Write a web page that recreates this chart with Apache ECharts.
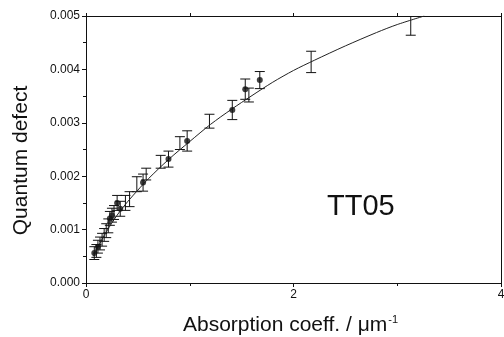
<!DOCTYPE html>
<html><head><meta charset="utf-8">
<script src="https://cdn.jsdelivr.net/npm/echarts@6/dist/echarts.min.js"></script>
<style>html,body{margin:0;padding:0;background:#fff}#c{width:504px;height:337px}</style>
</head><body><div id="c"></div>
<script>
// Filled points (x, y, error)
const filledX   = [0.08, 0.115, 0.23, 0.25, 0.30, 0.33, 0.55, 0.795, 0.975, 1.41, 1.535, 1.675];
const filledY   = [0.00056, 0.00068, 0.00121, 0.00127, 0.00150, 0.00139, 0.00188, 0.00232, 0.00266, 0.00324, 0.00363, 0.00380];
const filledErr = [0.00012, 0.00012, 0.00013, 0.00013, 0.00014, 0.00014, 0.00016, 0.00015, 0.00019, 0.00018, 0.00019, 0.00016];
// Error bars without markers
const openX   = [0.10, 0.135, 0.155, 0.175, 0.195, 0.215, 0.27, 0.38, 0.42, 0.49, 0.58, 0.72, 0.905, 1.19, 1.57, 2.17, 3.13];
const openY   = [0.00060, 0.00074, 0.00081, 0.00090, 0.00098, 0.00107, 0.00132, 0.00150, 0.00157, 0.00185, 0.00204, 0.00227, 0.00262, 0.00303, 0.00352, 0.00414, 0.00482];
const openErr = [0.00012, 0.00012, 0.00012, 0.00012, 0.00013, 0.00013, 0.00013, 0.00014, 0.00014, 0.00014, 0.00011, 0.00012, 0.00012, 0.00013, 0.00013, 0.00020, 0.00018];
// Fit curve
const fitX = [0.07, 0.1, 0.2, 0.3, 0.4, 0.5, 0.6, 0.8, 1.0, 1.2, 1.4, 1.6, 1.8, 2.0, 2.2, 2.5, 2.8, 3.0, 3.26];
const fitY = [0.00050, 0.00062, 0.00097, 0.00127, 0.00152, 0.00174, 0.00195, 0.00232, 0.00265, 0.00297, 0.00325, 0.00351, 0.00376, 0.00398, 0.00417, 0.00444, 0.00469, 0.00484, 0.00500];
const xTicks = [0, 2, 4];
const yTicks = [0.000, 0.001, 0.002, 0.003, 0.004, 0.005];
const sampleLabel = 'TT05';

const FONT = '"Liberation Sans", Arial, Helvetica, sans-serif';
const INK = '#111';
const chart = echarts.init(document.getElementById('c'), null, {renderer: 'canvas'});

const errData = filledX.map((x, i) => [x, filledY[i], filledErr[i]])
  .concat(openX.map((x, i) => [x, openY[i], openErr[i]]));

function errItem(params, api) {
  const x = api.value(0), y = api.value(1), e = api.value(2);
  const t = api.coord([x, y + e]), b = api.coord([x, y - e]);
  const hw = 5;
  const st = {stroke: INK, lineWidth: 1};
  return {type: 'group', children: [
    {type: 'line', shape: {x1: t[0], y1: t[1], x2: b[0], y2: b[1]}, style: st},
    {type: 'line', shape: {x1: t[0] - hw, y1: t[1], x2: t[0] + hw, y2: t[1]}, style: st},
    {type: 'line', shape: {x1: b[0] - hw, y1: b[1], x2: b[0] + hw, y2: b[1]}, style: st}
  ]};
}

const axisLine = {show: true, onZero: false, lineStyle: {color: INK, width: 1}};
chart.setOption({
  animation: false,
  backgroundColor: '#fff',
  grid: {left: 86, right: 3, top: 16, bottom: 54, outerBoundsMode: 'none', containLabel: false},
  xAxis: [{
    type: 'value', min: xTicks[0], max: xTicks[xTicks.length - 1], interval: 2,
    axisLine: axisLine,
    axisTick: {show: true, length: 4, lineStyle: {color: INK}},
    minorTick: {show: true, splitNumber: 2, length: 3, lineStyle: {color: INK}},
    splitLine: {show: false},
    axisLabel: {color: INK, fontFamily: FONT, fontSize: 12, margin: 6},
    name: '{a|Absorption coeff. / \u03bcm}{s|-1}',
    nameLocation: 'middle', nameGap: 31,
    nameTextStyle: {padding: [0, 6, 0, 0], rich: {
      a: {fontFamily: FONT, fontSize: 21, color: INK},
      s: {fontFamily: FONT, fontSize: 11, color: INK, verticalAlign: 'top', padding: [0, 0, 12, 1]}
    }}
  }, {
    type: 'value', position: 'top', min: 0, max: 4, interval: 1,
    axisLine: axisLine,
    axisTick: {show: true, length: 3, lineStyle: {color: INK}},
    axisLabel: {show: false}, splitLine: {show: false}
  }],
  yAxis: [{
    type: 'value', min: 0, max: 0.005, interval: 0.001,
    axisLine: axisLine,
    axisTick: {show: true, length: 4, lineStyle: {color: INK}},
    minorTick: {show: true, splitNumber: 2, length: 3, lineStyle: {color: INK}},
    splitLine: {show: false},
    axisLabel: {color: INK, fontFamily: FONT, fontSize: 12, margin: 6, formatter: v => v.toFixed(3)},
    name: 'Quantum defect', nameLocation: 'middle', nameGap: 54,
    nameTextStyle: {fontFamily: FONT, fontSize: 21, color: INK, padding: [0, 22, 0, 0]}
  }, {
    type: 'value', position: 'right', min: 0, max: 0.005,
    axisLine: axisLine, axisTick: {show: false}, axisLabel: {show: false}, splitLine: {show: false}
  }],
  graphic: [{
    type: 'text', left: 327, top: 192,
    style: {text: sampleLabel, font: '29px ' + FONT, fill: INK}
  }],
  series: [{
    type: 'custom', renderItem: errItem, data: errData, clip: true, z: 2,
    encode: {x: 0, y: 1}
  }, {
    type: 'line', data: fitX.map((x, i) => [x, fitY[i]]), smooth: 0.3, showSymbol: false,
    lineStyle: {color: '#222', width: 1}, z: 3, clip: true
  }, {
    type: 'scatter', data: filledX.map((x, i) => [x, filledY[i]]), symbol: 'circle', symbolSize: 6,
    itemStyle: {color: INK}, z: 4
  }]
});
</script></body></html>
